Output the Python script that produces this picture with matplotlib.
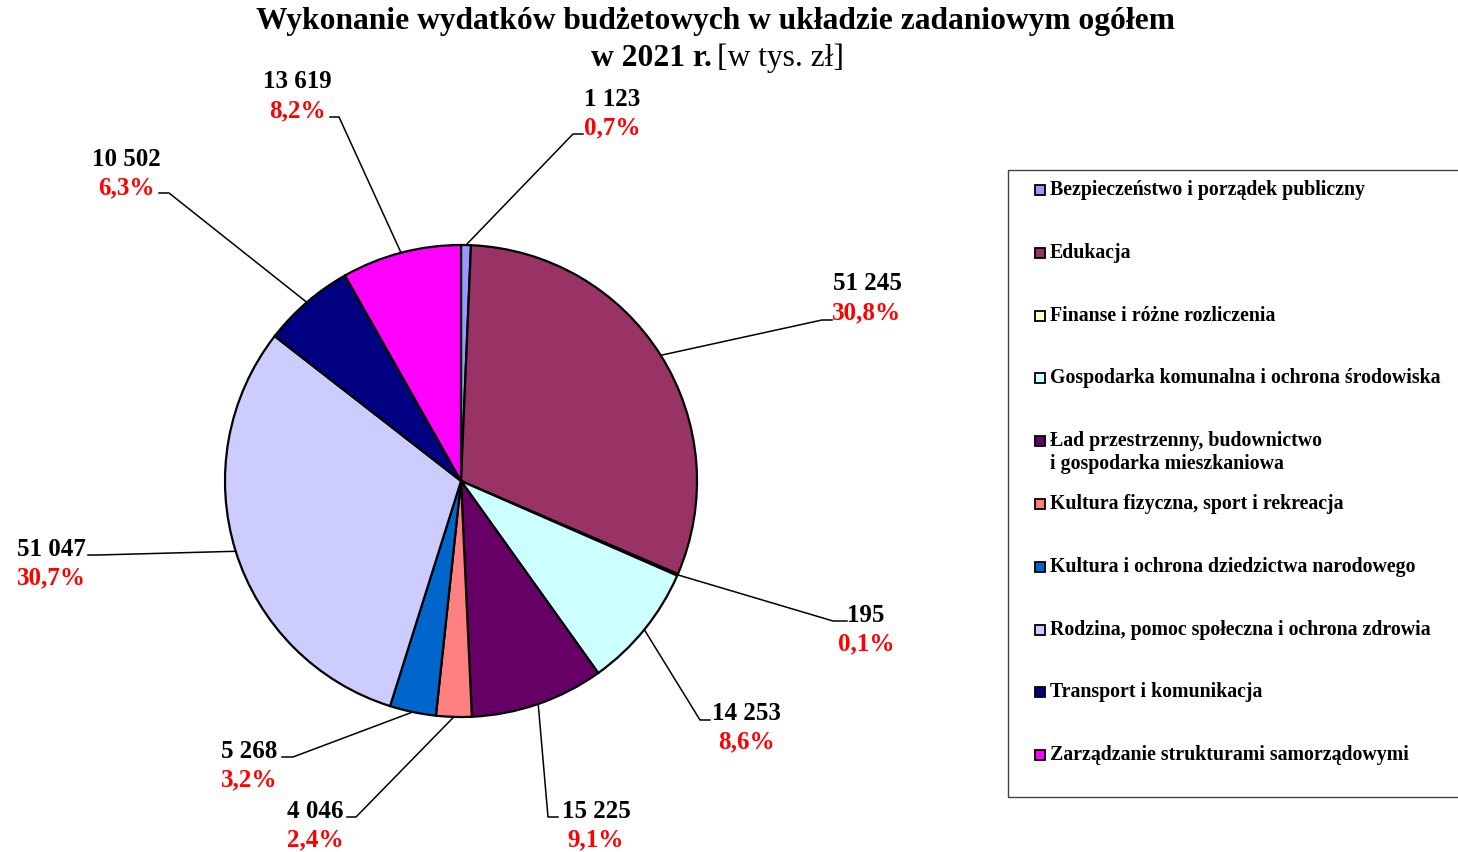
import numpy as np
import matplotlib
matplotlib.use("Agg")
import matplotlib.pyplot as plt
from matplotlib.patches import Rectangle

plt.rcParams['font.family'] = ['Liberation Serif', 'DejaVu Serif']

categories = ["Bezpieczeństwo i porządek publiczny",
              "Edukacja",
              "Finanse i różne rozliczenia",
              "Gospodarka komunalna i ochrona środowiska",
              "Ład przestrzenny, budownictwo\ni gospodarka mieszkaniowa",
              "Kultura fizyczna, sport i rekreacja",
              "Kultura i ochrona dziedzictwa narodowego",
              "Rodzina, pomoc społeczna i ochrona zdrowia",
              "Transport i komunikacja",
              "Zarządzanie strukturami samorządowymi"]
values = [1123, 51245, 195, 14253, 15225, 4046, 5268, 51047, 10502, 13619]
colors = ["#9999FF", "#993366", "#FFFFCC", "#CCFFFF", "#660066",
          "#FF8080", "#0066CC", "#CCCCFF", "#000080", "#FF00FF"]

# label layout (pixels): text centre x, value line y, elbow x, elbow y, line end x
label_pos = [(612, 99, 573, 134, 583),
             (867, 284, 822, 320, 832),
             (866, 615, 833, 621, 847),
             (746, 713, 700, 720, 710),
             (596, 811, 548, 817, 558),
             (315, 811, 356, 817, 347),
             (249, 751, 293, 757, 282),
             (51, 549, 98, 555, 88),
             (126, 159, 169, 193, 159),
             (297, 82, 339, 117, 330)]

W, H = 1458, 852
fig = plt.figure(figsize=(W / 100, H / 100), dpi=100)
ax = fig.add_axes([0, 0, 1, 1])

cx, cy, r = 461, H - 481, 236
wedges, _ = ax.pie(values, colors=colors, startangle=90, counterclock=False,
                   center=(cx, cy), radius=r,
                   wedgeprops=dict(edgecolor="black", linewidth=1.6))
ax.set_xlim(0, W)
ax.set_ylim(0, H)
ax.axis("off")

total = sum(values)
for w, v, (tx, ty, ex, ey, endx) in zip(wedges, values, label_pos):
    mid = np.deg2rad((w.theta1 + w.theta2) / 2)
    ax_x, ax_y = cx + r * np.cos(mid), cy + r * np.sin(mid)
    ax.plot([ax_x, ex, endx], [ax_y, H - ey, H - ey], color="black", lw=1.1)
    ax.text(tx, H - ty, f"{v:,}".replace(",", " "), ha="center", va="center",
            fontsize=18, fontweight="bold", color="black")
    pct = f"{100 * v / total:.1f}%".replace(".", ",")
    ax.text(tx, H - ty - 29, pct, ha="center", va="center",
            fontsize=18, fontweight="bold", color="red")

# title
ax.text(715, H - 22, "Wykonanie wydatków budżetowych w układzie zadaniowym ogółem",
        ha="center", va="center", fontsize=22.7, fontweight="bold")
ax.text(712, H - 58, "w 2021 r.", ha="right", va="center", fontsize=22.7, fontweight="bold")
ax.text(717, H - 58, "[w tys. zł]", ha="left", va="center", fontsize=22.7)

# legend
ax.add_patch(Rectangle((1008, H - 797), 470, 627, facecolor="white",
                       edgecolor="#404040", lw=1.0, clip_on=False))
for i, (name, c) in enumerate(zip(categories, colors)):
    ly = H - (190 + i * 62.8)
    ax.add_patch(Rectangle((1035, ly - 5), 10, 10, facecolor=c, edgecolor="black", lw=1.3))
    ty = ly - 11 if "\n" in name else ly
    ax.text(1050, ty, name, ha="left", va="center",
            fontsize=14.3, fontweight="bold", linespacing=1.2)

fig.savefig("out.png", dpi=100)
